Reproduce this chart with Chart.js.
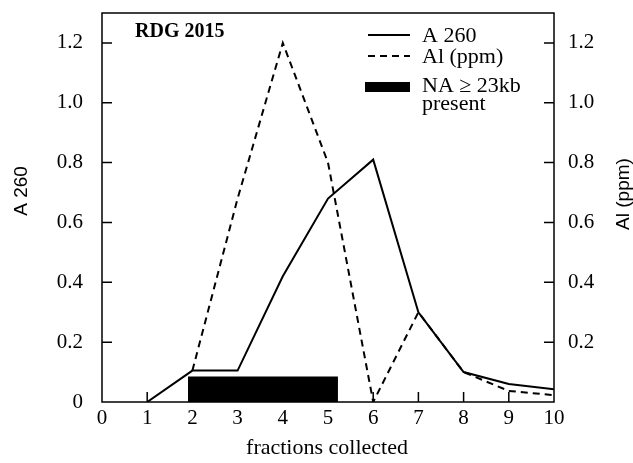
<!DOCTYPE html>
<html>
<head>
<meta charset="utf-8">
<script src="https://cdn.jsdelivr.net/npm/chart.js@4"></script>
<style>
  html, body { margin: 0; padding: 0; background: #fff; }
  #wrap { width: 633px; height: 463px; }
</style>
</head>
<body>
<div id="wrap"><canvas id="chart" width="633" height="463"></canvas></div>
<script>
// fractions collected
const fractions = [1, 2, 3, 4, 5, 6, 7, 8, 9, 10];
// A 260 (solid)
const a260 = [0, 0.105, 0.105, 0.42, 0.68, 0.81, 0.3, 0.1, 0.06, 0.043];
// Al (ppm) (dashed), starts at fraction 2
const alFractions = [2, 3, 4, 5, 6, 7, 8, 9, 10];
const alPpm = [0.105, 0.68, 1.2, 0.8, 0, 0.3, 0.1, 0.037, 0.023];
// NA >= 23kb present block
const naRange = [1.9, 5.22];
const naHeight = 0.085;

const xTicks = [0, 1, 2, 3, 4, 5, 6, 7, 8, 9, 10];
const yTicks = [0, 0.2, 0.4, 0.6, 0.8, 1.0, 1.2];

const serif = '"Liberation Serif", "DejaVu Serif", serif';
const sans = '"Liberation Sans", Arial, sans-serif';

// inward ticks, frame, legend and labels
const decorPlugin = {
    id: 'decor',
    afterDatasetsDraw(chart) {
        const ctx = chart.ctx;
        const area = chart.chartArea;
        const x = chart.scales.x, y = chart.scales.y, y2 = chart.scales.y2;
        ctx.save();
        ctx.strokeStyle = '#000';
        ctx.lineWidth = 1.5;
        ctx.strokeRect(area.left, area.top, area.right - area.left, area.bottom - area.top);
        ctx.beginPath();
        xTicks.slice(1, -1).forEach(v => {
            const px = x.getPixelForValue(v);
            ctx.moveTo(px, area.bottom);
            ctx.lineTo(px, area.bottom - 10);
        });
        yTicks.slice(1).forEach(v => {
            const py = y.getPixelForValue(v);
            ctx.moveTo(area.left, py);
            ctx.lineTo(area.left + 10, py);
            const py2 = y2.getPixelForValue(v);
            ctx.moveTo(area.right, py2);
            ctx.lineTo(area.right - 10, py2);
        });
        ctx.stroke();

        ctx.fillStyle = '#000';
        ctx.textBaseline = 'middle';

        // label inside plot
        ctx.font = 'bold 20px ' + serif;
        ctx.fillText('RDG 2015', 135, 32);

        // legend
        ctx.font = '22px ' + serif;
        ctx.lineWidth = 2;
        ctx.beginPath();
        ctx.moveTo(368, 35); ctx.lineTo(410, 35);
        ctx.stroke();
        ctx.fillText('A 260', 422, 36);
        ctx.setLineDash([7, 5]);
        ctx.beginPath();
        ctx.moveTo(368, 56); ctx.lineTo(410, 56);
        ctx.stroke();
        ctx.setLineDash([]);
        ctx.fillText('Al (ppm)', 422, 57);
        ctx.fillRect(365, 82, 45, 10);
        ctx.fillText('NA \u2265 23kb', 422, 86);
        ctx.fillText('present', 422, 104);

        // axis titles
        ctx.textAlign = 'center';
        ctx.font = '19px ' + sans;
        ctx.save();
        ctx.translate(22, 191);
        ctx.rotate(-Math.PI / 2);
        ctx.fillText('A 260', 0, 0);
        ctx.restore();
        ctx.save();
        ctx.translate(624, 194);
        ctx.rotate(-Math.PI / 2);
        ctx.fillText('Al (ppm)', 0, 0);
        ctx.restore();
        ctx.font = '22px ' + serif;
        ctx.fillText('fractions collected', 327, 448);
        ctx.restore();
    }
};

new Chart(document.getElementById('chart'), {
    type: 'line',
    data: {
        datasets: [
            {
                label: 'NA \u2265 23kb present',
                data: naRange.map(v => ({ x: v, y: naHeight })),
                borderWidth: 0,
                borderColor: '#000',
                backgroundColor: '#000',
                fill: 'origin',
                pointRadius: 0,
                yAxisID: 'y'
            },
            {
                label: 'A 260',
                data: fractions.map((f, i) => ({ x: f, y: a260[i] })),
                borderColor: '#000',
                borderWidth: 2,
                pointRadius: 0,
                tension: 0,
                fill: false,
                yAxisID: 'y'
            },
            {
                label: 'Al (ppm)',
                data: alFractions.map((f, i) => ({ x: f, y: alPpm[i] })),
                borderColor: '#000',
                borderWidth: 2,
                borderDash: [7, 5],
                pointRadius: 0,
                tension: 0,
                fill: false,
                yAxisID: 'y2'
            }
        ]
    },
    options: {
        responsive: false,
        animation: false,
        layout: { padding: { top: 13, right: 0, bottom: 0, left: 0 } },
        plugins: {
            legend: { display: false },
            tooltip: { enabled: false }
        },
        scales: {
            x: {
                type: 'linear',
                min: 0,
                max: 10,
                afterFit: s => { s.height = 61; s.paddingLeft = 0; s.paddingRight = 0; },
                afterBuildTicks: s => { s.ticks = xTicks.map(v => ({ value: v })); },
                grid: { display: false, drawTicks: false },
                border: { display: false },
                ticks: { color: '#000', padding: 4, maxRotation: 0, font: { family: serif, size: 21 } }
            },
            y: {
                position: 'left',
                min: 0,
                max: 1.3,
                afterFit: s => { s.width = 102; s.paddingTop = 0; s.paddingBottom = 0; },
                afterBuildTicks: s => { s.ticks = yTicks.map(v => ({ value: v })); },
                grid: { display: false, drawTicks: false },
                border: { display: false },
                ticks: { color: '#000', padding: 19, font: { family: serif, size: 21 },
                    callback: v => v === 0 ? '0' : v.toFixed(1) }
            },
            y2: {
                position: 'right',
                min: 0,
                max: 1.3,
                afterFit: s => { s.width = 79; s.paddingTop = 0; s.paddingBottom = 0; },
                afterBuildTicks: s => { s.ticks = yTicks.map(v => ({ value: v })); },
                grid: { display: false, drawTicks: false },
                border: { display: false },
                ticks: { color: '#000', padding: 14, font: { family: serif, size: 21 },
                    callback: v => v === 0 ? '' : v.toFixed(1) }
            }
        }
    },
    plugins: [decorPlugin]
});
</script>
</body>
</html>
